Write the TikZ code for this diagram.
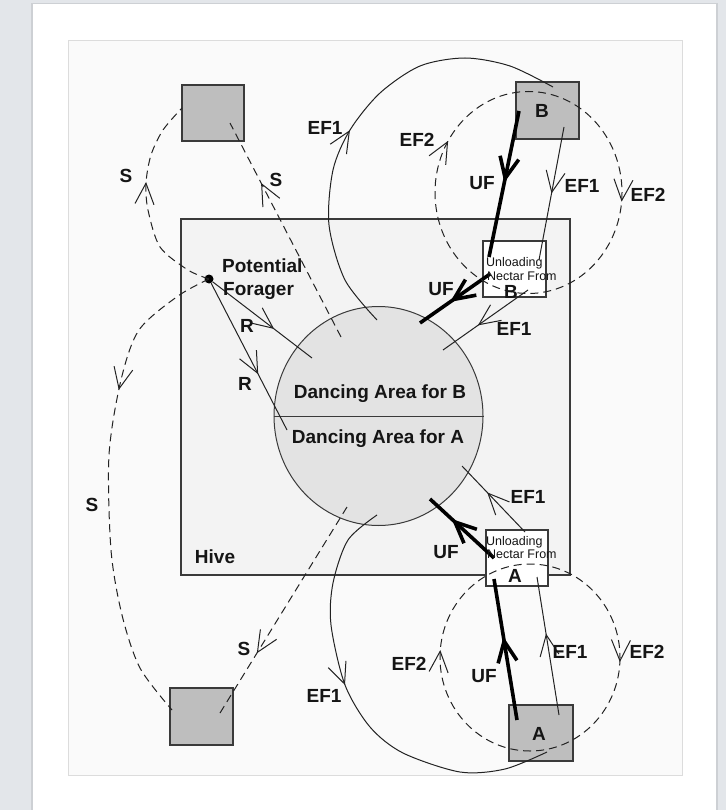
\documentclass[tikz,border=0pt]{standalone}
\usepackage{fontspec}
\setmainfont{Liberation Sans}
\usetikzlibrary{arrows.meta,decorations.markings,shapes.geometric}
\definecolor{outerbg}{HTML}{E3E6EA}
\definecolor{cardshade}{HTML}{CDD0D4}
\definecolor{panelbg}{HTML}{FAFAFA}
\definecolor{panelline}{HTML}{DCDCDC}
\definecolor{hivebg}{HTML}{F3F3F3}
\definecolor{dancebg}{HTML}{E3E3E3}
\definecolor{sqbg}{HTML}{BEBEBE}
\definecolor{edge}{HTML}{3A3A3A}
\definecolor{linec}{HTML}{222222}
\definecolor{txtc}{HTML}{151515}
\tikzset{
  thinV/.tip={Straight Barb[length=21pt,width=19pt]},
  ma/.style={postaction={decorate,decoration={markings,mark=at position #1 with {\arrow{thinV}}}}},
  ln/.style={draw=linec, line width=1pt},
  dl/.style={ln, dash pattern=on 8pt off 5pt},
  uf/.style={draw=black, line width=3.6pt},
  lab/.style={font=\fontsize{19}{22}\selectfont\bfseries, inner sep=0pt, anchor=base, text=txtc},
  small/.style={font=\fontsize{12.5}{14}\selectfont, inner sep=0pt, anchor=base west, text=txtc},
  sq/.style={rectangle, fill=sqbg, draw=edge, line width=1.4pt, inner sep=0pt, outer sep=0pt},
  ubox/.style={rectangle, fill=white, draw=edge, line width=1.2pt, inner sep=0pt, outer sep=0pt, minimum width=63, minimum height=56},
}
\begin{document}
\begin{tikzpicture}[x=1pt,y=-1pt]
\useasboundingbox (0,0) rectangle (726,810);
\fill[outerbg] (0,0) rectangle (726,810);
\fill[cardshade] (31,3) rectangle (718,810);
\fill[white] (33,4) rectangle (716,810);
\filldraw[fill=panelbg, draw=panelline, line width=0.8pt] (68,40) rectangle (682,775);

% hive and dancing area
\node[rectangle, fill=hivebg, draw=edge, line width=1.3pt, inner sep=0pt, minimum width=389, minimum height=356] (hive) at (375.5,397) {};
\node[ellipse, fill=dancebg, draw=edge, line width=1pt, inner sep=0pt, minimum width=209, minimum height=219] (dance) at (378.5,416) {};
\draw[draw=edge, line width=1pt] (dance.west) -- (dance.east);

% food sources
\node[sq, minimum width=62, minimum height=56] (sqTL) at (213,113) {};
\node[sq, minimum width=63, minimum height=57] (sqB) at (547.5,110.5) {};
\node[sq, minimum width=63, minimum height=57] (sqBL) at (201.5,716.5) {};
\node[sq, minimum width=64, minimum height=56] (sqA) at (541,733) {};

% unloading boxes
\node[ubox] (ubB) at (514.5,269) {};
\node[ubox, minimum width=62] (ubA) at (517,558) {};

% potential forager
\node[circle, fill=black, inner sep=0pt, minimum size=9] (pf) at (209,279) {};

% connector end points
\coordinate (s2c) at (341,337); \coordinate (s2q) at (230,123);
\coordinate (s4c) at (347,507); \coordinate (s4q) at (220,713);
\coordinate (s1q) at (182,108); \coordinate (s3q) at (172,710);
\coordinate (r1c) at (312,358); \coordinate (r2c) at (287,430);
\coordinate (ufB0) at (519,111); \coordinate (ufB1) at (489,257);
\coordinate (ufB2) at (490,274); \coordinate (ufBc) at (420,323);
\coordinate (ufA0) at (517,720); \coordinate (ufA1) at (494,579);
\coordinate (ufA2) at (494,558); \coordinate (ufAc) at (430,499);
\coordinate (efB0) at (564,127); \coordinate (efB1) at (539,260);
\coordinate (efB2) at (528,290); \coordinate (efBc) at (443,350);
\coordinate (efA0) at (559,715); \coordinate (efA1) at (537,577);
\coordinate (efA2) at (525,532); \coordinate (efAc) at (462,466);
\coordinate (arcTc) at (377,320); \coordinate (arcTq) at (553,87);
\coordinate (arcBc) at (377,515); \coordinate (arcBq) at (547,752);

% scouts (S)
\draw[dl, ma=0.6] plot[smooth] coordinates {(pf) (188,270) (160,247) (148,210) (146,183) (151,155) (163,130) (s1q)};
\draw[dl, ma=0.72] (s2c) -- (s2q);
\draw[dl, ma=0.31] plot[smooth] coordinates {(pf) (178,296) (139,330) (121,380) (109,455) (111,550) (122,615) (140,668) (s3q)};
\draw[dl, ma=0.71] (s4c) -- (s4q);

% recruits (R)
\draw[ln, ma=0.62] (pf) -- (r1c);
\draw[ln, ma=0.62] (pf) -- (r2c);

% unloading foragers (UF)
\draw[uf, ma=0.49] (ufB0) -- (ufB1);
\draw[uf, ma=0.57] (ufB2) -- (ufBc);
\draw[uf, ma=0.59] (ufA0) -- (ufA1);
\draw[uf, ma=0.66] (ufA2) -- (ufAc);

% employed foragers EF1
\draw[ln, ma=0.5] (efB0) -- (efB1);
\draw[ln, ma=0.59] (efB2) -- (efBc);
\draw[ln, ma=0.59] (efA0) -- (efA1);
\draw[ln, ma=0.6] (efA2) -- (efAc);
\draw[ln, ma=0.468] plot[smooth] coordinates {(arcTc) (345,280) (329,225) (333,170) (350,130) (380,93) (420,66) (465,58) (510,66) (arcTq)};
\draw[ln, ma=0.437] plot[smooth] coordinates {(arcBc) (348,540) (333,583) (331,625) (345,685) (370,727) (403,753) (460,772) (505,769) (arcBq)};

% employed foragers EF2
\draw[dl, ma=0.015, ma=0.588] (528.5,192.5) ellipse [x radius=93.5, y radius=101];
\draw[dl, ma=0.008, ma=0.513] (530,657.5) ellipse [x radius=90, y radius=93.5];

% texts
\node[lab] (tdB) at (380,398) {Dancing Area for B};
\node[lab] (tdA) at (378,443) {Dancing Area for A};
\node[lab, anchor=base west] (tpf1) at (222,272) {Potential};
\node[lab, anchor=base west] (tpf2) at (223,295) {Forager};
\node[lab] (tR1) at (247,332) {R};
\node[lab] (tR2) at (245,390) {R};
\node[lab] (thive) at (215,563) {Hive};
\node[lab] (tS1) at (126,183) {S};
\node[lab] (tS2) at (276,187) {S};
\node[lab] (tS3) at (92,511) {S};
\node[lab] (tS4) at (244,655) {S};
\node[lab] (tE1) at (325,135) {EF1};
\node[lab] (tE2) at (417,147) {EF2};
\node[lab] (tU1) at (482,190) {UF};
\node[lab] (tE3) at (582,193) {EF1};
\node[lab] (tE4) at (648,202) {EF2};
\node[lab] (tU2) at (441,295) {UF};
\node[lab] (tE5) at (514,335) {EF1};
\node[lab] (tE6) at (528,503) {EF1};
\node[lab] (tU3) at (446,558) {UF};
\node[lab] (tE7) at (409,670) {EF2};
\node[lab] (tU4) at (484,682) {UF};
\node[lab] (tE8) at (570,658) {EF1};
\node[lab] (tE9) at (647,658) {EF2};
\node[lab] (tE10) at (324,702) {EF1};
\node[lab] (tB) at (542,118) {B};
\node[lab] (tA) at (539,740) {A};
\node[small] (ubBt1) at (486,266) {Unloading};
\node[small] (ubBt2) at (487,280) {Nectar From};
\node[lab] (ubBt3) at (511,298) {B};
\node[small] (ubAt1) at (486,545) {Unloading};
\node[small] (ubAt2) at (487,558) {Nectar From};
\node[lab] (ubAt3) at (515,582) {A};
\end{tikzpicture}
\end{document}
